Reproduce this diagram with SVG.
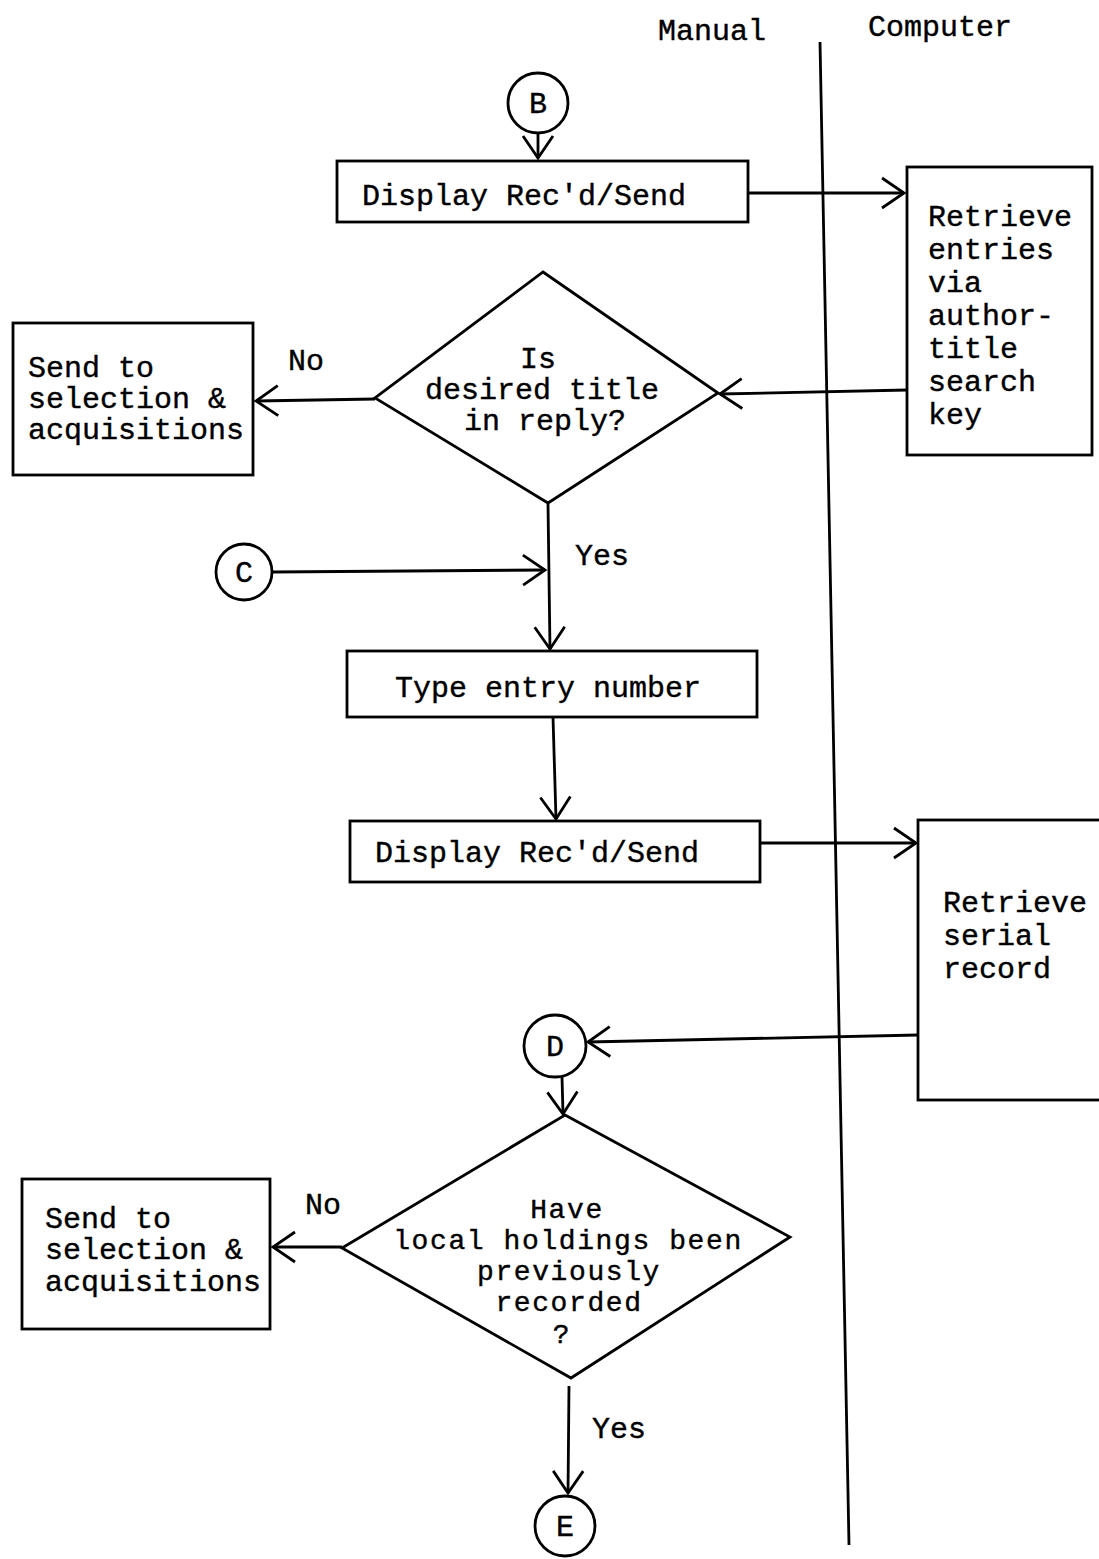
<svg xmlns="http://www.w3.org/2000/svg" width="1099" height="1559" viewBox="0 0 1099 1559">
<defs>
<style>
.s{fill:none;stroke:#000;stroke-width:2.8;}
.t{font-family:"Liberation Mono","DejaVu Sans Mono",monospace;font-size:30px;fill:#000;stroke:#000;stroke-width:0.4;}
.d{font-size:28px;letter-spacing:1.6px;}
.c{text-anchor:middle;}
.l{stroke:#000;stroke-width:2.8;fill:none;}
</style>
<marker id="ah" markerUnits="userSpaceOnUse" markerWidth="40" markerHeight="40" viewBox="-30 -20 40 40" refX="0" refY="0" orient="auto">
<path d="M-22,-15 L0,0 L-22,15" fill="none" stroke="#000" stroke-width="2.8"/>
</marker>
</defs>
<rect width="1099" height="1559" fill="#fff"/>
<g id="lanes">
<line class="l" x1="820" y1="42" x2="849" y2="1545"/>
<text class="t" x="658" y="40">Manual</text>
<text class="t" x="868" y="36">Computer</text>
</g>
<g id="connectors">
<line class="l" x1="538" y1="134" x2="538" y2="158" marker-end="url(#ah)"/>
<line class="l" x1="748" y1="193" x2="904" y2="193" marker-end="url(#ah)"/>
<line class="l" x1="907" y1="390" x2="720" y2="394" marker-end="url(#ah)"/>
<line class="l" x1="375" y1="399" x2="256" y2="401" marker-end="url(#ah)"/>
<line class="l" x1="548" y1="504" x2="550" y2="649" marker-end="url(#ah)"/>
<line class="l" x1="272" y1="572" x2="545" y2="570" marker-end="url(#ah)"/>
<line class="l" x1="553" y1="717" x2="556" y2="819" marker-end="url(#ah)"/>
<line class="l" x1="760" y1="843" x2="916" y2="843" marker-end="url(#ah)"/>
<line class="l" x1="918" y1="1035" x2="588" y2="1042" marker-end="url(#ah)"/>
<line class="l" x1="562" y1="1077" x2="563" y2="1114" marker-end="url(#ah)"/>
<line class="l" x1="342" y1="1247" x2="273" y2="1247" marker-end="url(#ah)"/>
<line class="l" x1="569" y1="1386" x2="568" y2="1493" marker-end="url(#ah)"/>
<text class="t" x="288" y="370">No</text>
<text class="t" x="575" y="565">Yes</text>
<text class="t" x="305" y="1214">No</text>
<text class="t" x="592" y="1438">Yes</text>
</g>
<g id="B">
<circle class="s" cx="538" cy="103" r="30"/>
<text class="t c" x="538" y="113">B</text>
</g>
<g id="display1">
<rect class="s" x="337" y="161" width="411" height="61"/>
<text class="t" x="362" y="205">Display Rec'd/Send</text>
</g>
<g id="retrieve1">
<rect class="s" x="907" y="167" width="185" height="288"/>
<text class="t" x="928" y="226">Retrieve</text>
<text class="t" x="928" y="259">entries</text>
<text class="t" x="928" y="292">via</text>
<text class="t" x="928" y="325">author-</text>
<text class="t" x="928" y="358">title</text>
<text class="t" x="928" y="391">search</text>
<text class="t" x="928" y="424">key</text>
</g>
<g id="decision1">
<polygon class="s" points="543,272 718,393 548,503 375,398"/>
<text class="t c" x="538" y="368">Is</text>
<text class="t c" x="542" y="399">desired title</text>
<text class="t c" x="545" y="430">in reply?</text>
</g>
<g id="send1">
<rect class="s" x="13" y="323" width="240" height="152"/>
<text class="t" x="28" y="377">Send to</text>
<text class="t" x="28" y="408">selection &amp;</text>
<text class="t" x="28" y="439">acquisitions</text>
</g>
<g id="C">
<circle class="s" cx="244" cy="572" r="28"/>
<text class="t c" x="244" y="582">C</text>
</g>
<g id="typeentry">
<rect class="s" x="347" y="651" width="410" height="66"/>
<text class="t c" x="548" y="697">Type entry number</text>
</g>
<g id="display2">
<rect class="s" x="350" y="821" width="410" height="61"/>
<text class="t" x="375" y="862">Display Rec'd/Send</text>
</g>
<g id="retrieve2">
<rect class="s" x="918" y="820" width="190" height="280"/>
<text class="t" x="943" y="912">Retrieve</text>
<text class="t" x="943" y="945">serial</text>
<text class="t" x="943" y="978">record</text>
</g>
<g id="D">
<circle class="s" cx="555" cy="1046" r="31"/>
<text class="t c" x="555" y="1056">D</text>
</g>
<g id="decision2">
<polygon class="s" points="565,1115 790,1237 571,1378 342,1248"/>
<text class="t d c" x="567" y="1218">Have</text>
<text class="t d c" x="568" y="1249">local holdings been</text>
<text class="t d c" x="569" y="1280">previously</text>
<text class="t d c" x="569" y="1311">recorded</text>
<text class="t d c" x="562" y="1343">?</text>
</g>
<g id="send2">
<rect class="s" x="22" y="1179" width="248" height="150"/>
<text class="t" x="45" y="1228">Send to</text>
<text class="t" x="45" y="1259">selection &amp;</text>
<text class="t" x="45" y="1291">acquisitions</text>
</g>
<g id="E">
<circle class="s" cx="565" cy="1526" r="30"/>
<text class="t c" x="565" y="1536">E</text>
</g>
</svg>
